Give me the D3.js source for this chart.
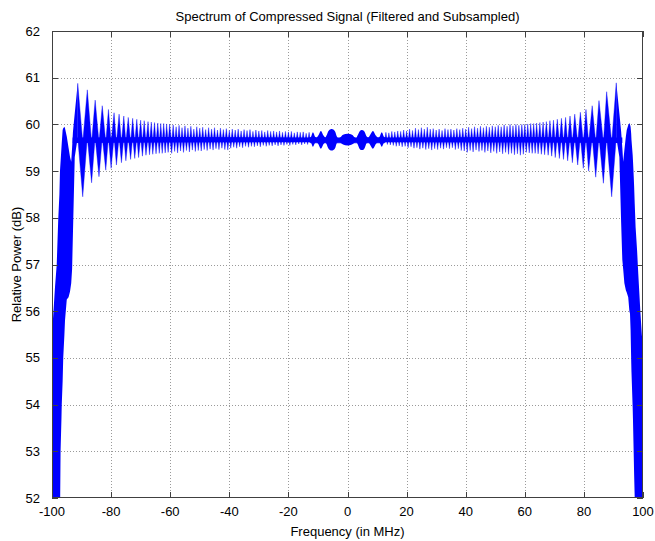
<!DOCTYPE html>
<html><head><meta charset="utf-8">
<script src="https://cdn.jsdelivr.net/npm/d3@7"></script>
<style>body{margin:0;background:#fff} text{font-family:"Liberation Sans",Arial,Helvetica,sans-serif;fill:#000}</style>
</head><body><svg id="c" width="655" height="541"></svg>
<script>
// ---------- tick labels ----------
const xTicks = [-100,-80,-60,-40,-20,0,20,40,60,80,100];
const yTicks = [52,53,54,55,56,57,58,59,60,61,62];

// ---------- solid roll-off regions (envelope) ----------
const leftEdgeF  = [-101,-100,-99.55,-99.0,-98.4,-97.9,-97.5,-97.3,-97.1,-96.8,-96.7,-96.4,-96.2,-95.8,-95.6,-95.0,-94.4,-93.9,-93.5,-93.2,-92.9,-92.3,-91.3];
const leftEdgeHi = [55.3,55.5,55.95,56.5,57.0,57.95,58.5,59.0,59.2,59.5,59.6,59.88,59.92,59.95,59.92,59.74,59.5,59.3,59.2,59.5,59.85,60.24,60.88];
const leftEdgeLo = [50,50,50,50,50,50,50,51.5,53.0,53.7,54.0,54.5,55.0,55.5,55.8,56.25,56.3,56.42,56.6,56.9,57.7,59.3,59.72];

const rightEdgeF  = [90.96,92.0,92.6,93.0,93.3,93.7,94.2,94.5,95.0,95.4,95.6,95.8,96.0,96.1,96.5,96.6,96.85,97.0,97.2,97.5,98.0,98.4,99.1,99.6,100,101];
const rightEdgeHi = [60.89,60.24,59.85,59.5,59.2,59.45,59.74,59.88,59.98,60.03,60.0,59.95,59.8,59.67,59.35,59.24,58.9,58.67,58.3,57.8,57.3,56.8,56.0,55.5,55.2,55.0];
const rightEdgeLo = [59.72,59.3,57.9,57.1,56.9,56.6,56.45,56.4,56.3,56.0,55.95,55.6,54.95,54.7,53.95,53.7,52.96,52.5,52.0,50,50,50,50,50,50,50];

// ---------- Fresnel ripple peaks / troughs ----------
const leftPeakF  = [-91.3,-88.05,-85.4,-83.0,-80.9,-79.0,-77.3,-75.7,-74.2,-72.7,-71.3,-70.0,-68.8,-67.5,-66.4,-65.3,-64.2,-63.2,-62.2,-61.2,-60.2];
const leftPeakDb = [60.88,60.74,60.52,60.40,60.32,60.25,60.22,60.18,60.15,60.13,60.11,60.09,60.08,60.06,60.05,60.04,60.03,60.02,60.02,60.01,60.0];
const leftTroughF  = [-89.6,-86.6,-84.1,-81.8,-80.0,-78.2,-76.5,-75.0,-73.4,-72.0,-70.7,-69.4,-68.2,-67.0,-65.9,-64.8,-63.7,-62.7,-61.7,-60.7];
const leftTroughDb = [58.45,58.75,58.88,59.02,59.06,59.13,59.18,59.22,59.25,59.27,59.29,59.32,59.34,59.35,59.36,59.37,59.38,59.38,59.39,59.40];

const rightPeakF  = [60.0,61.0,62.0,63.0,64.0,65.1,66.2,67.3,68.5,69.7,71.0,72.4,73.8,75.3,76.9,78.8,80.7,82.8,85.1,87.7,90.96];
const rightPeakDb = [60.0,60.01,60.02,60.02,60.03,60.04,60.05,60.06,60.08,60.09,60.11,60.13,60.15,60.18,60.22,60.26,60.32,60.40,60.51,60.70,60.89];
const rightTroughF  = [60.5,61.5,62.5,63.5,64.5,65.6,66.7,67.9,69.1,70.3,71.7,73.1,74.5,76.1,77.9,79.8,81.6,84.0,86.6,89.4];
const rightTroughDb = [59.40,59.39,59.38,59.38,59.37,59.36,59.35,59.34,59.32,59.29,59.27,59.25,59.22,59.18,59.13,59.06,59.0,58.87,58.74,58.45];

// ---------- fast ripple in the flat part ----------
const midLeftPeakF  = [-59,-58,-57,-56,-55,-54,-53,-52,-51,-50,-49,-48,-47,-46,-45,-44,-43,-42,-41,-40,-39,-38,-37,-36,-35,-34,-33,-32,-31,-30,-29,-28,-27,-26,-25,-24,-23,-22,-21,-20,-19,-18,-17,-16,-15,-14,-13];
const midLeftPeakDb = [59.99,59.95,59.98,59.93,59.97,59.92,59.96,59.9,59.95,59.92,59.94,59.89,59.93,59.9,59.93,59.88,59.92,59.89,59.91,59.87,59.9,59.88,59.9,59.86,59.89,59.87,59.89,59.85,59.88,59.86,59.87,59.84,59.87,59.85,59.86,59.84,59.86,59.83,59.85,59.84,59.85,59.82,59.84,59.83,59.84,59.81,59.83];
const midLeftTroughF  = [-59.5,-58.5,-57.5,-56.5,-55.5,-54.5,-53.5,-52.5,-51.5,-50.5,-49.5,-48.5,-47.5,-46.5,-45.5,-44.5,-43.5,-42.5,-41.5,-40.5,-39.5,-38.5,-37.5,-36.5,-35.5,-34.5,-33.5,-32.5,-31.5,-30.5,-29.5,-28.5,-27.5,-26.5,-25.5,-24.5,-23.5,-22.5,-21.5,-20.5,-19.5,-18.5,-17.5,-16.5,-15.5,-14.5,-13.5,-12.5];
const midLeftTroughDb = [59.38,59.42,59.39,59.43,59.4,59.44,59.41,59.45,59.42,59.44,59.43,59.46,59.44,59.47,59.45,59.48,59.46,59.49,59.46,59.45,59.49,59.51,59.49,59.52,59.5,59.53,59.51,59.53,59.52,59.54,59.52,59.55,59.53,59.55,59.54,59.56,59.54,59.56,59.55,59.57,59.55,59.57,59.56,59.58,59.56,59.58,59.57,59.6];

const midRightPeakF  = [13,14,15,16,17,18,19,20,21,22,23,24,25,26,27,28,29,30,31,32,33,34,35,36,37,38,39,40,41,42,43,44,45,46,47,48,49,50,51,52,53,54,55,56,57,58,59];
const midRightPeakDb = [59.83,59.82,59.85,59.84,59.86,59.85,59.88,59.86,59.9,59.87,59.92,59.89,59.93,59.9,59.94,59.9,59.91,59.88,59.9,59.87,59.91,59.89,59.9,59.88,59.91,59.89,59.92,59.9,59.94,59.91,59.95,59.92,59.96,59.93,59.96,59.94,59.97,59.95,59.98,59.95,59.99,59.96,60.0,59.97,60.0,59.98,60.0];
const midRightTroughF  = [12.5,13.5,14.5,15.5,16.5,17.5,18.5,19.5,20.5,21.5,22.5,23.5,24.5,25.5,26.5,27.5,28.5,29.5,30.5,31.5,32.5,33.5,34.5,35.5,36.5,37.5,38.5,39.5,40.5,41.5,42.5,43.5,44.5,45.5,46.5,47.5,48.5,49.5,50.5,51.5,52.5,53.5,54.5,55.5,56.5,57.5,58.5,59.5];
const midRightTroughDb = [59.6,59.57,59.56,59.55,59.53,59.54,59.52,59.53,59.5,59.52,59.49,59.5,59.47,59.49,59.46,59.48,59.45,59.48,59.46,59.49,59.47,59.5,59.48,59.5,59.46,59.48,59.44,59.43,59.4,59.44,59.41,59.45,59.42,59.44,59.4,59.43,59.39,59.42,59.38,59.41,59.37,59.4,59.36,59.38,59.35,59.37,59.34,59.36];

// ---------- beat "blobs" around 0 MHz ----------
const blobF  = [-13,-12.4,-11.7,-10.9,-10.4,-9.9,-9.0,-8.1,-7.5,-7.1,-6.3,-5.3,-4.3,-3.6,-3.0,-2.5,-1.5,0,1.5,2.5,2.9,3.4,4.2,4.8,5.6,6.5,7.0,7.6,8.6,9.6,10.2,10.8,11.6,12.4,13];
const blobHi = [59.72,59.73,59.83,59.73,59.72,59.76,59.86,59.76,59.72,59.76,59.87,59.9,59.86,59.74,59.7,59.72,59.78,59.8,59.78,59.72,59.7,59.76,59.86,59.88,59.86,59.74,59.72,59.77,59.86,59.76,59.72,59.73,59.83,59.73,59.72];
const blobLo = [59.62,59.61,59.52,59.61,59.62,59.58,59.48,59.58,59.62,59.58,59.47,59.44,59.48,59.6,59.64,59.62,59.57,59.55,59.57,59.62,59.64,59.58,59.47,59.45,59.47,59.6,59.62,59.57,59.48,59.58,59.62,59.61,59.52,59.61,59.62];

// ---------- dense core of the trace ----------
const coreF  = [-93,-60,-13,13,60,93];
const coreHi = [59.72,59.73,59.72,59.72,59.73,59.72];
const coreLo = [59.6,59.61,59.62,59.62,59.61,59.6];
const hillDb = 59.72;    // lower edge of the trace under each peak
const valleyDb = 59.62;  // upper edge of the trace above each trough

// ---------- drawing ----------
const L = 52, R = 643, T = 31, B = 498;
const svg = d3.select('#c');
const x = d3.scaleLinear().domain([-100,100]).range([L,R]);
const y = d3.scaleLinear().domain([52,62]).range([B,T]);
const blue = '#0000ff';

svg.append('defs').append('clipPath').attr('id','clip')
  .append('rect').attr('x',L).attr('y',T).attr('width',R-L).attr('height',B-T);

// grid
const grid = svg.append('g').attr('stroke','#9a9a9a').attr('stroke-width',1).attr('stroke-dasharray','1,2');
xTicks.slice(1,-1).forEach(t => grid.append('line')
  .attr('x1',Math.round(x(t))+0.5).attr('x2',Math.round(x(t))+0.5).attr('y1',T).attr('y2',B));
yTicks.slice(1,-1).forEach(t => grid.append('line')
  .attr('y1',Math.round(y(t))+0.5).attr('y2',Math.round(y(t))+0.5).attr('x1',L).attr('x2',R));

const plot = svg.append('g').attr('clip-path','url(#clip)');

function zip(fs, a, b){ return fs.map((f,i)=>({f, hi:a[i], lo:b[i]})); }
const band = d3.area().x(d=>x(d.f)).y0(d=>y(d.lo)).y1(d=>y(d.hi));

// core
plot.append('path').datum(zip(coreF,coreHi,coreLo)).attr('d',band).attr('fill',blue);

// ripple trace: peaks (upper edge) and troughs (lower edge)
const pts = [];
[[leftPeakF,leftPeakDb],[rightPeakF,rightPeakDb],[midLeftPeakF,midLeftPeakDb],[midRightPeakF,midRightPeakDb]]
 .forEach(([fs,vs]) => fs.forEach((f,i)=>pts.push({f, hi:vs[i], lo:hillDb})));
[[leftTroughF,leftTroughDb],[rightTroughF,rightTroughDb],[midLeftTroughF,midLeftTroughDb],[midRightTroughF,midRightTroughDb]]
 .forEach(([fs,vs]) => fs.forEach((f,i)=>pts.push({f, hi:valleyDb, lo:vs[i]})));
pts.sort((a,b)=>a.f-b.f);
plot.append('path').datum(pts).attr('d',band).attr('fill',blue)
  .attr('stroke',blue).attr('stroke-width',0.4);

// blobs
plot.append('path').datum(zip(blobF,blobHi,blobLo)).attr('d',d3.area().x(d=>x(d.f)).y0(d=>y(d.lo)).y1(d=>y(d.hi)).curve(d3.curveCatmullRom)).attr('fill',blue);

// solid edges
plot.append('path').datum(zip(leftEdgeF,leftEdgeHi,leftEdgeLo)).attr('d',band).attr('fill',blue);
plot.append('path').datum(zip(rightEdgeF,rightEdgeHi,rightEdgeLo)).attr('d',band).attr('fill',blue);

// axes box
const ax = svg.append('g').attr('stroke','#404040').attr('stroke-width',1).attr('fill','none');
ax.append('rect').attr('x',L+0.5).attr('y',T+0.5).attr('width',R-L-1).attr('height',B-T-1);
const tl = 6;
xTicks.forEach(t => {
  const px = Math.round(x(t))+0.5;
  ax.append('line').attr('x1',px).attr('x2',px).attr('y1',B).attr('y2',B-tl);
  ax.append('line').attr('x1',px).attr('x2',px).attr('y1',T).attr('y2',T+tl);
});
yTicks.forEach(t => {
  const py = Math.round(y(t))+0.5;
  ax.append('line').attr('y1',py).attr('y2',py).attr('x1',L).attr('x2',L+tl);
  ax.append('line').attr('y1',py).attr('y2',py).attr('x1',R).attr('x2',R-tl);
});

const fs = 13;
svg.append('g').selectAll('text').data(xTicks).join('text')
  .attr('x',d=>x(d)).attr('y',516).attr('text-anchor','middle').attr('font-size',fs).text(d=>d);
svg.append('g').selectAll('text').data(yTicks).join('text')
  .attr('x',40).attr('y',d=>y(d)+4.5).attr('text-anchor','end').attr('font-size',fs).text(d=>d);

svg.append('text').attr('x',(L+R)/2).attr('y',21).attr('text-anchor','middle').attr('font-size',fs)
  .text('Spectrum of Compressed Signal (Filtered and Subsampled)');
svg.append('text').attr('x',(L+R)/2).attr('y',536).attr('text-anchor','middle').attr('font-size',fs)
  .text('Frequency (in MHz)');
svg.append('text').attr('transform',`translate(21,${(T+B)/2}) rotate(-90)`).attr('text-anchor','middle').attr('font-size',fs)
  .text('Relative Power (dB)');
</script></body></html>
